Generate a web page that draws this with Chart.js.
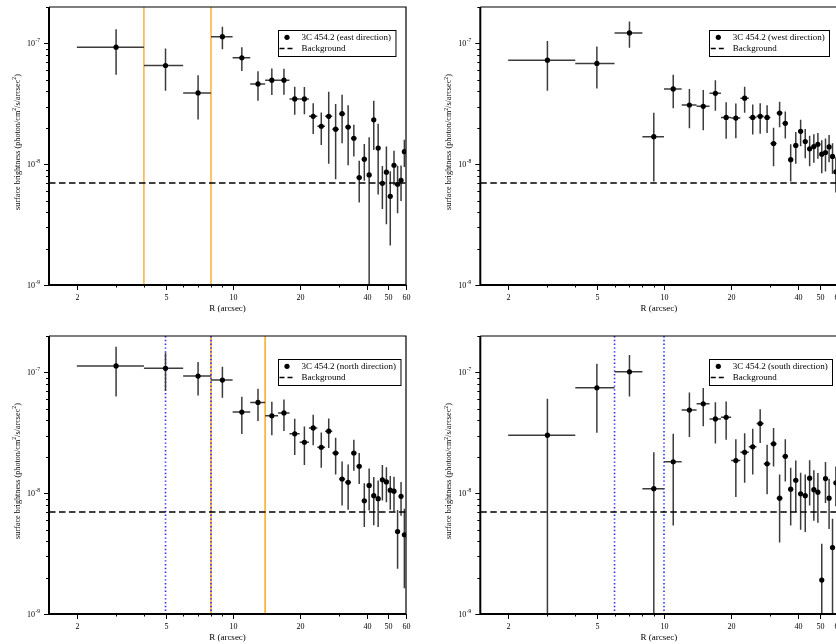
<!DOCTYPE html>
<html>
<head>
<meta charset="utf-8">
<script src="https://cdn.jsdelivr.net/npm/chart.js@4.4.0/dist/chart.umd.min.js"></script>
<style>
  html, body { margin: 0; padding: 0; background: #fff; overflow: hidden; width: 836px; height: 644px; }
  canvas { position: absolute; }
</style>
</head>
<body>
<canvas id="east" width="416" height="320" style="left:0;top:0"></canvas>
<canvas id="west" width="440" height="320" style="left:416px;top:0"></canvas>
<canvas id="north" width="416" height="324" style="left:0;top:320px"></canvas>
<canvas id="south" width="440" height="324" style="left:416px;top:320px"></canvas>
<script>
// radial bins (arcsec), each bin is 2 arcsec wide
const rBins = [3, 5, 7, 9, 11, 13, 15, 17, 19, 21, 23, 25, 27, 29, 31, 33, 35, 37, 39, 41, 43, 45, 47, 49, 51, 53, 55, 57, 59]
const rHalf = 1

// surface brightness (photon/cm2/s/arcsec2) and 1-sigma errors
const eastSB = [9.3e-8, 6.56e-8, 3.89e-8, 1.135e-7, 7.6e-8, 4.62e-8, 4.96e-8, 4.96e-8, 3.47e-8, 3.47e-8, 2.49e-8, 2.06e-8, 2.49e-8, 1.95e-8, 2.62e-8, 2.03e-8, 1.64e-8, 7.75e-9, 1.1e-8, 8.15e-9, 2.33e-8, 1.36e-8, 6.95e-9, 8.59e-9, 5.42e-9, 9.8e-9, 6.82e-9, 7.36e-9, 1.27e-8]
const eastErr = [3.8e-8, 2.5e-8, 1.55e-8, 2.4e-8, 1.7e-8, 1.27e-8, 1.22e-8, 1.2e-8, 0.9e-8, 0.88e-8, 0.71e-8, 0.62e-8, 1.48e-8, 1.2e-8, 1.13e-8, 1.05e-8, 0.48e-8, 2.93e-9, 3.7e-9, 8.55e-9, 1.02e-8, 0.8e-8, 2.7e-9, 5.4e-9, 3.3e-9, 3.1e-9, 2.9e-9, 2.4e-9, 3.2e-9]

const westSB = [7.26e-8, 6.82e-8, 1.22e-7, 1.69e-8, 4.2e-8, 3.09e-8, 3.01e-8, 3.86e-8, 2.44e-8, 2.41e-8, 3.52e-8, 2.44e-8, 2.49e-8, 2.44e-8, 1.48e-8, 2.65e-8, 2.18e-8, 1.09e-8, 1.43e-8, 1.87e-8, 1.54e-8, 1.34e-8, 1.4e-8, 1.46e-8, 1.21e-8, 1.25e-8, 1.39e-8, 1.16e-8, 8.64e-9]
const westErr = [3.2e-8, 2.58e-8, 3.0e-8, 0.97e-8, 1.3e-8, 1.11e-8, 1.1e-8, 1.09e-8, 0.82e-8, 0.77e-8, 0.85e-8, 0.68e-8, 0.7e-8, 0.63e-8, 0.52e-8, 0.63e-8, 0.55e-8, 0.37e-8, 0.42e-8, 0.46e-8, 0.42e-8, 0.38e-8, 0.37e-8, 0.35e-8, 0.37e-8, 0.38e-8, 0.35e-8, 0.33e-8, 2.8e-9]

const northSB = [1.13e-7, 1.08e-7, 9.32e-8, 8.64e-8, 4.69e-8, 5.64e-8, 4.37e-8, 4.62e-8, 3.1e-8, 2.64e-8, 3.47e-8, 2.4e-8, 3.26e-8, 2.15e-8, 1.31e-8, 1.23e-8, 2.15e-8, 1.67e-8, 8.66e-9, 1.16e-8, 9.53e-9, 9.0e-9, 1.29e-8, 1.24e-8, 1.06e-8, 1.04e-8, 4.82e-9, 9.42e-9, 4.53e-9]
const northErr = [5.0e-8, 3.8e-8, 2.88e-8, 2.47e-8, 1.6e-8, 1.68e-8, 1.35e-8, 1.35e-8, 1.03e-8, 0.93e-8, 0.98e-8, 0.78e-8, 0.89e-8, 0.72e-8, 0.52e-8, 0.5e-8, 0.62e-8, 0.48e-8, 3.4e-9, 4.4e-9, 4.1e-9, 3.75e-9, 4.2e-9, 4.0e-9, 3.3e-9, 3.3e-9, 2.45e-9, 2.93e-9, 2.9e-9]

const southSB = [3.02e-8, 7.46e-8, 1.01e-7, 1.09e-8, 1.82e-8, 4.87e-8, 5.5e-8, 4.12e-8, 4.25e-8, 1.86e-8, 2.18e-8, 2.42e-8, 3.77e-8, 1.75e-8, 2.56e-8, 9.1e-9, 2.02e-8, 1.08e-8, 1.28e-8, 9.87e-9, 9.53e-9, 1.33e-8, 1.07e-8, 1.02e-8, 1.91e-9, 1.32e-8, 9.1e-9, 3.55e-9, 1.22e-8]
const southErr = [3.02e-8, 4.3e-8, 3.8e-8, 1.09e-8, 1.28e-8, 1.95e-8, 1.92e-8, 1.54e-8, 1.48e-8, 0.93e-8, 0.96e-8, 0.99e-8, 1.17e-8, 0.77e-8, 0.9e-8, 5.2e-9, 0.77e-8, 0.54e-8, 0.58e-8, 4.9e-9, 4.75e-9, 0.54e-8, 0.48e-8, 0.45e-8, 1.9e-9, 0.49e-8, 4.05e-9, 2.6e-9, 0.44e-8]

const backgroundLevel = 7e-9

// marked radii
const eastOrange = [4, 8]
const westOrange = []
const northOrange = [8, 14]
const southOrange = []
const eastBlue = []
const westBlue = []
const northBlue = [5, 8]
const southBlue = [6, 10]

// axes
const xRange = [1.5, 60]
const yRange = [1e-9, 2e-7]
const xTicks = [2, 3, 4, 5, 6, 7, 8, 9, 10, 20, 30, 40, 50, 60]
const xTickLabels = ['2', '', '', '5', '', '', '', '', '10', '20', '', '40', '50', '60']
const yMajor = [1e-9, 1e-8, 1e-7]
const yMajorExp = ['-9', '-8', '-7']
const yMinor = [2e-9, 3e-9, 4e-9, 5e-9, 6e-9, 7e-9, 8e-9, 9e-9, 2e-8, 3e-8, 4e-8, 5e-8, 6e-8, 7e-8, 8e-8, 9e-8, 2e-7]

const SERIF = '"Liberation Serif", "Times New Roman", serif'

//disegna testo con apici
function drawSupText(ctx, parts, size) {
  let total = 0
  parts.forEach(p => {
    ctx.font = (p.sup ? size * 0.7 : size) + 'px ' + SERIF
    p.w = ctx.measureText(p.t).width
    total += p.w
  })
  let cx = -total / 2
  parts.forEach(p => {
    ctx.font = (p.sup ? size * 0.7 : size) + 'px ' + SERIF
    ctx.fillText(p.t, cx, p.sup ? -size * 0.4 : 0)
    cx += p.w
  })
}

const panelDeco = {
  id: 'panelDeco',
  beforeDatasetsDraw(chart, args, opts) {
    const { ctx, chartArea: a, scales: { x, y } } = chart
    ctx.save()
    ctx.beginPath()
    ctx.rect(a.left, a.top, a.right - a.left, a.bottom - a.top)
    ctx.clip()
    // linee verticali
    opts.orange.forEach(r => {
      const px = x.getPixelForValue(r)
      ctx.strokeStyle = opts.orangeColor
      ctx.lineWidth = opts.orangeWidth
      ctx.setLineDash([])
      ctx.beginPath(); ctx.moveTo(px, a.top); ctx.lineTo(px, a.bottom); ctx.stroke()
    })
    opts.blue.forEach(r => {
      const px = x.getPixelForValue(r)
      ctx.strokeStyle = '#2a2aff'
      ctx.lineWidth = 1.6
      ctx.setLineDash([1.4, 2.4])
      ctx.beginPath(); ctx.moveTo(px, a.top); ctx.lineTo(px, a.bottom); ctx.stroke()
    })
    // barre di errore
    ctx.setLineDash([])
    ctx.strokeStyle = '#3c3c3c'
    ctx.lineWidth = 1.5
    opts.sb.forEach((v, i) => {
      const r = rBins[i]
      const px = x.getPixelForValue(r)
      const py = y.getPixelForValue(v)
      const lo = v - opts.err[i]
      const top = y.getPixelForValue(v + opts.err[i])
      const bot = lo > 0 ? y.getPixelForValue(lo) : a.bottom + 5
      ctx.beginPath()
      ctx.moveTo(x.getPixelForValue(r - rHalf), py)
      ctx.lineTo(x.getPixelForValue(r + rHalf), py)
      ctx.moveTo(px, top)
      ctx.lineTo(px, bot)
      ctx.stroke()
    })
    ctx.restore()
  },
  afterDraw(chart, args, opts) {
    const { ctx, chartArea: a, scales: { x, y } } = chart
    ctx.save()
    ctx.strokeStyle = 'black'
    ctx.fillStyle = 'black'
    // cornice
    ctx.lineWidth = 1.2
    ctx.beginPath()
    ctx.moveTo(a.left, a.top); ctx.lineTo(a.right, a.top); ctx.lineTo(a.right, a.bottom)
    ctx.stroke()
    ctx.lineWidth = 2
    ctx.beginPath()
    ctx.moveTo(a.left, a.top); ctx.lineTo(a.left, a.bottom); ctx.lineTo(a.right, a.bottom)
    ctx.stroke()
    // tacche asse x
    ctx.lineWidth = 1
    ctx.font = '8px ' + SERIF
    ctx.textAlign = 'center'
    ctx.textBaseline = 'middle'
    xTicks.forEach((t, i) => {
      const px = Math.round(x.getPixelForValue(t)) + 0.5
      const len = xTickLabels[i] ? 5 : 2.5
      ctx.beginPath(); ctx.moveTo(px, a.bottom); ctx.lineTo(px, a.bottom + len); ctx.stroke()
      if (xTickLabels[i]) ctx.fillText(xTickLabels[i], px, a.bottom + 12.5)
    })
    // tacche asse y
    yMinor.forEach(t => {
      const py = Math.round(y.getPixelForValue(t)) + 0.5
      ctx.beginPath(); ctx.moveTo(a.left - 3, py); ctx.lineTo(a.left, py); ctx.stroke()
    })
    yMajor.forEach((t, i) => {
      const py = Math.round(y.getPixelForValue(t)) + 0.5
      ctx.beginPath(); ctx.moveTo(a.left - 5, py); ctx.lineTo(a.left, py); ctx.stroke()
      ctx.textAlign = 'right'
      ctx.font = '5.5px ' + SERIF
      const ew = ctx.measureText(yMajorExp[i]).width
      ctx.fillText(yMajorExp[i], a.left - 9, py - 3)
      ctx.font = '8px ' + SERIF
      ctx.fillText('10', a.left - 9.5 - ew, py)
    })
    // titoli assi
    ctx.textAlign = 'left'
    ctx.save()
    ctx.translate((a.left + a.right) / 2, a.bottom + 23.5)
    drawSupText(ctx, [{ t: 'R (arcsec)' }], 9)
    ctx.restore()
    ctx.save()
    ctx.translate(a.left - 31, (a.top + a.bottom) / 2 - 4)
    ctx.rotate(-Math.PI / 2)
    drawSupText(ctx, [
      { t: 'surface brightness (photon/cm' }, { t: '2', sup: true },
      { t: '/s/arcsec' }, { t: '2', sup: true }, { t: ')' }
    ], 8.2)
    ctx.restore()
    // legenda
    ctx.font = '9px ' + SERIF
    const tw = ctx.measureText(opts.label).width
    const lx = a.left + 228.5, ly = a.top + 23
    ctx.lineWidth = 1
    ctx.strokeRect(Math.round(lx) + 0.5, Math.round(ly) + 0.5, tw + 28, 26)
    ctx.beginPath(); ctx.arc(lx + 9.5, ly + 7.3, 2.6, 0, Math.PI * 2); ctx.fill()
    ctx.lineWidth = 1.4
    ctx.setLineDash([5, 3])
    ctx.beginPath(); ctx.moveTo(lx + 2, ly + 18.5); ctx.lineTo(lx + 16, ly + 18.5); ctx.stroke()
    ctx.setLineDash([])
    ctx.textAlign = 'left'
    ctx.textBaseline = 'middle'
    ctx.fillText(opts.label, lx + 24, ly + 7.3)
    ctx.fillText('Background', lx + 24, ly + 18.3)
    ctx.restore()
  }
}

function makePanel(id, label, sb, err, orange, blue, orangeColor, orangeWidth, pad) {
  const points = rBins.map((r, i) => ({ x: r, y: sb[i] }))
  return new Chart(document.getElementById(id), {
    type: 'scatter',
    plugins: [panelDeco],
    data: {
      datasets: [
        {
          data: points,
          pointRadius: 2.6,
          pointBackgroundColor: 'black',
          pointBorderWidth: 0,
          showLine: false,
        },
        {
          type: 'line',
          data: [{ x: xRange[0], y: backgroundLevel }, { x: xRange[1], y: backgroundLevel }],
          borderColor: 'black',
          borderWidth: 1.5,
          borderDash: [6.5, 3.5],
          pointRadius: 0,
        },
      ],
    },
    options: {
      responsive: false,
      animation: false,
      events: [],
      layout: { padding: pad },
      scales: {
        x: { type: 'logarithmic', min: xRange[0], max: xRange[1], display: false },
        y: { type: 'logarithmic', min: yRange[0], max: yRange[1], display: false },
      },
      plugins: {
        legend: { display: false },
        tooltip: { enabled: false },
        panelDeco: { label, sb, err, orange, blue, orangeColor, orangeWidth },
      },
    },
  })
}

makePanel('east', '3C 454.2 (east direction)', eastSB, eastErr, eastOrange, eastBlue, '#f6a51c', 1.3,
  { left: 49, right: 10, top: 7, bottom: 35 })
makePanel('west', '3C 454.2 (west direction)', westSB, westErr, westOrange, westBlue, '#f6a51c', 1.3,
  { left: 64.3, right: 18.5, top: 7, bottom: 35 })
makePanel('north', '3C 454.2 (north direction)', northSB, northErr, northOrange, northBlue, '#fbb43c', 1.8,
  { left: 49, right: 10, top: 16, bottom: 30 })
makePanel('south', '3C 454.2 (south direction)', southSB, southErr, southOrange, southBlue, '#fbb43c', 1.8,
  { left: 64.3, right: 18.5, top: 16, bottom: 30 })
</script>
</body>
</html>
